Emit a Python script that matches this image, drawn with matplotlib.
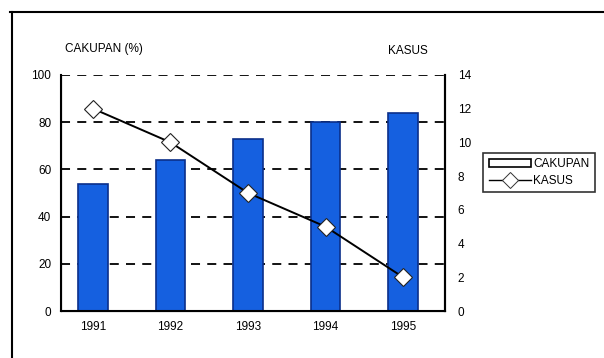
import matplotlib
matplotlib.use('Agg')
import matplotlib.pyplot as plt
from matplotlib.patches import Patch
from matplotlib.lines import Line2D

plt.rcParams['font.family'] = ['Liberation Sans', 'DejaVu Sans']

tahun = ['1991', '1992', '1993', '1994', '1995']
cakupan = [54, 64, 73, 80, 84]
kasus = [12, 10, 7, 5, 2]

fig = plt.figure(figsize=(6.04, 3.58), dpi=100)
ax = fig.add_axes([0.101, 0.131, 0.636, 0.66])
x = range(len(tahun))

ax.bar(x, cakupan, width=0.38, color='#1560e0', edgecolor='#0b2f8a', linewidth=1.2, zorder=2)
ax.set_ylim(0, 100)
ax.set_xlim(-0.41, 4.54)
ax.set_yticks([0, 20, 40, 60, 80, 100])
ax.set_xticks(list(x))
ax.set_xticklabels(tahun)
ax.tick_params(length=0, labelsize=8.5, pad=7)
for v in [20, 40, 60, 80, 100]:
    ax.axhline(v, color='black', linestyle=(0, (5, 4)), linewidth=1.3, zorder=1)

ax.spines['top'].set_visible(False)
for s in ['left', 'bottom', 'right']:
    ax.spines[s].set_linewidth(1.5)

ax2 = ax.twinx()
ax2.plot(x, kasus, color='black', linewidth=1.4, marker='D', markersize=9,
         markerfacecolor='white', markeredgecolor='#222222', markeredgewidth=0.8, zorder=3)
ax2.set_ylim(0, 14)
ax2.set_yticks(range(0, 15, 2))
ax2.tick_params(length=0, labelsize=8.5, pad=9)
ax2.spines['top'].set_visible(False)
ax2.spines['right'].set_linewidth(1.5)

fig.text(0.108, 0.855, 'CAKUPAN (%)', fontsize=8.5, ha='left')
fig.text(0.642, 0.848, 'KASUS', fontsize=8.5, ha='left')

handles = [Patch(facecolor='white', edgecolor='black', linewidth=1.2),
           Line2D([], [], color='black', linewidth=1, marker='D', markersize=8,
                  markerfacecolor='white', markeredgecolor='#333333', markeredgewidth=0.7)]
leg = fig.legend(handles, ['CAKUPAN', 'KASUS'], loc='upper left', bbox_to_anchor=(0.8, 0.573),
                 fontsize=8.5, frameon=True, fancybox=False, handlelength=3.6,
                 handletextpad=0.2, borderpad=0.45, labelspacing=0.4, borderaxespad=0)
leg.get_frame().set_edgecolor('black')
leg.get_frame().set_linewidth(1.2)

# frame around the figure
fig.add_artist(Line2D([0.016, 1.0], [0.966, 0.966], color='black', linewidth=1.5))
fig.add_artist(Line2D([0.02, 0.02], [0.0, 0.966], color='black', linewidth=1.5))

fig.savefig('out.png', dpi=100)
